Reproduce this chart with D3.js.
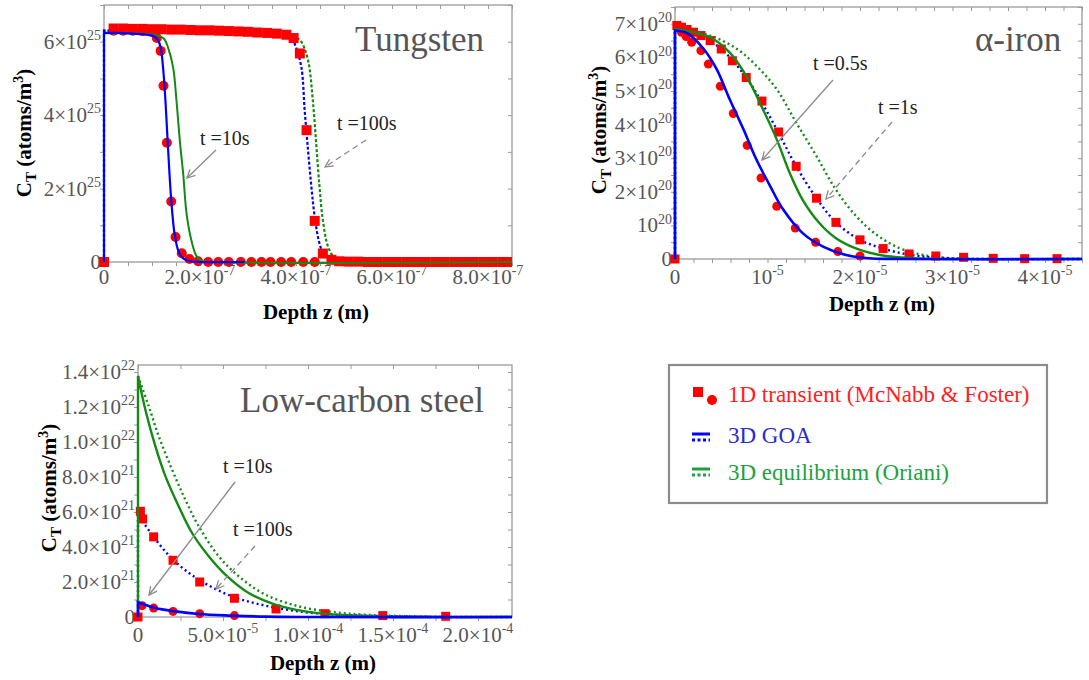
<!DOCTYPE html>
<html>
<head>
<meta charset="utf-8">
<script src="https://cdn.jsdelivr.net/npm/d3@7"></script>
<style>
  body { margin: 0; background: #fff; }
</style>
</head>
<body>
<svg id="chart" width="1089" height="680"></svg>
<script>
// ---- Tungsten (x in 1e-7 m, y in 1e25 atoms/m3)
const wSq100 = [[0,0],[0.2,6.36],[0.4,6.36],[0.6,6.35],[0.8,6.35],[1.0,6.34],[1.2,6.34],[1.4,6.33],[1.6,6.33],[1.8,6.32],[2.0,6.31],
  [2.2,6.31],[2.4,6.30],[2.6,6.29],[2.8,6.28],[3.0,6.27],[3.2,6.25],[3.4,6.24],[3.6,6.22],[3.8,6.19],[3.95,6.1],
  [4.08,5.68],[4.22,3.59],[4.39,1.12],[4.56,0.23],[4.74,0.06],[4.9,0.02],[5.1,0.01],[5.3,0.01],[5.5,0],[5.7,0],[5.9,0],
  [6.1,0],[6.3,0],[6.5,0],[6.7,0],[6.9,0],[7.1,0],[7.3,0],[7.5,0],[7.7,0],[7.9,0],[8.1,0],[8.3,0],[8.5,0]];
const wCirc10 = [[0.2,6.3],[0.4,6.3],[0.6,6.3],[0.8,6.29],[1.0,6.27],[1.1,6.1],[1.18,5.75],[1.24,4.8],[1.31,3.25],[1.4,1.65],
  [1.49,0.68],[1.62,0.24],[1.78,0.08],[1.96,0.02],[2.17,0],[2.38,0],[2.6,0],[2.85,0],[3.07,0],[3.28,0],[3.47,0],[3.69,0],[3.9,0],[4.15,0],[4.39,0]];
const wBlue10 = [[0,0],[0,6.24],[0.3,6.24],[0.6,6.22],[0.9,6.19],[1.05,6.14],[1.12,6.05],[1.18,5.85],[1.23,5.3],[1.28,4.4],[1.33,3.2],
  [1.4,1.7],[1.47,0.77],[1.55,0.3],[1.65,0.1],[1.8,0.02],[2.0,0],[2.93,0]];
const wGreen10 = [[0,0],[0,6.24],[0.5,6.23],[1.0,6.2],[1.15,6.16],[1.25,6.08],[1.33,5.86],[1.44,5.3],[1.51,4.4],[1.58,3.3],[1.65,2.4],
  [1.72,1.32],[1.82,0.59],[1.92,0.18],[2.03,0.03],[2.2,0],[8.5,0]];
const wBlue100 = [[0,0],[0,6.3],[2.0,6.28],[3.5,6.2],[3.9,6.1],[3.97,5.95],[4.11,5.32],[4.18,4.14],[4.25,3.05],[4.32,2.05],[4.39,1.23],
  [4.49,0.5],[4.6,0.14],[4.74,0.02],[4.9,0],[8.5,0]];
const wGreen100 = [[0,0],[0,6.3],[2.0,6.28],[3.8,6.2],[4.0,6.12],[4.11,6.0],[4.25,5.5],[4.35,4.41],[4.42,3.23],[4.49,2.05],[4.56,1.14],
  [4.67,0.41],[4.81,0.09],[4.94,0],[8.5,0]];
const wXTicks = [0, 2, 4, 6, 8];
const wXLabels = ["0", "2.0×10^-7", "4.0×10^-7", "6.0×10^-7", "8.0×10^-7"];
const wYTicks = [0, 2, 4, 6];
const wYLabels = ["0", "2×10^25", "4×10^25", "6×10^25"];

// ---- alpha-iron (x in 1e-5 m, y in 1e20 atoms/m3)
const aSq1 = [[0,0],[0.02,6.95],[0.07,6.9],[0.13,6.83],[0.2,6.75],[0.28,6.65],[0.38,6.5],[0.5,6.25],[0.62,5.9],[0.77,5.4],[0.94,4.7],
  [1.12,3.78],[1.31,2.76],[1.53,1.81],[1.74,1.09],[2.0,0.57],[2.25,0.31],[2.53,0.15],[2.82,0.09],[3.12,0.05],[3.44,0.02],[3.78,0.01],[4.13,0.01]];
const aCirc05 = [[0.07,6.75],[0.12,6.62],[0.18,6.45],[0.28,6.2],[0.36,5.8],[0.49,5.14],[0.63,4.33],[0.78,3.38],[0.93,2.41],[1.1,1.57],
  [1.3,0.92],[1.52,0.5],[1.76,0.22],[2.0,0.09]];
const aBlue05 = [[0,0],[0,6.8],[0.13,6.72],[0.31,6.25],[0.45,5.65],[0.59,4.76],[0.74,3.86],[0.88,2.96],[1.03,2.16],[1.17,1.47],
  [1.38,0.77],[1.6,0.37],[1.85,0.12],[2.1,0.02],[2.35,0],[4.4,0]];
const aGreen05 = [[0,0],[0,6.85],[0.2,6.75],[0.38,6.6],[0.59,6.15],[0.77,5.45],[0.95,4.46],[1.1,3.56],[1.24,2.56],[1.38,1.76],
  [1.56,1.07],[1.74,0.62],[2.0,0.27],[2.28,0.09],[2.64,0.02],[3.0,0],[4.4,0]];
const aBlue1 = [[0,0],[0,6.85],[0.2,6.75],[0.5,6.25],[0.77,5.4],[0.94,4.65],[1.12,3.75],[1.31,2.76],[1.53,1.81],[1.74,1.09],
  [2.0,0.57],[2.3,0.27],[2.6,0.1],[2.9,0.03],[3.3,0],[4.4,0]];
const aGreen1 = [[0,0],[0,6.85],[0.38,6.65],[0.67,6.25],[0.88,5.75],[1.1,5.05],[1.31,4.06],[1.53,3.06],[1.74,2.06],[1.96,1.27],
  [2.18,0.72],[2.43,0.32],[2.68,0.12],[3.0,0.02],[3.3,0],[4.4,0]];
const aXTicks = [0, 1, 2, 3, 4];
const aXLabels = ["0", "10^-5", "2×10^-5", "3×10^-5", "4×10^-5"];
const aYTicks = [0, 1, 2, 3, 4, 5, 6, 7];
const aYLabels = ["0", "10^20", "2×10^20", "3×10^20", "4×10^20", "5×10^20", "6×10^20", "7×10^20"];

// ---- Low-carbon steel (x in 1e-5 m, y in 1e21 atoms/m3)
const sSq100 = [[0,0],[0.14,6.04],[0.27,5.6],[0.92,4.58],[2.06,3.24],[3.63,2.0],[5.67,1.07],[8.12,0.46],[11.0,0.19],[14.4,0.08],[18.1,0.04]];
const sCirc10 = [[0.24,0.65],[0.92,0.51],[2.06,0.32],[3.63,0.19],[5.67,0.08]];
const sBlue10 = [[0,0],[0,0.84],[1.02,0.51],[2.2,0.32],[3.57,0.17],[5.5,0.08],[7.5,0.02],[9.5,0],[22,0]];
const sBlue100 = [[0,0],[0,6.0],[0.04,5.85],[0.92,4.58],[2.06,3.28],[3.57,2.14],[5.53,1.18],[7.49,0.65],[9.45,0.32],[11.4,0.15],
  [13.4,0.08],[16.3,0.02],[19,0],[22,0]];
const sGreen10 = [[0,0],[0,13.77],[0.43,11.86],[1.02,9.76],[1.61,8.05],[2.39,6.33],[3.18,4.8],[4.16,3.47],[5.14,2.42],[6.51,1.37],
  [8.08,0.71],[9.84,0.32],[11.4,0.15],[13.4,0.04],[16,0],[22,0]];
const sGreen100 = [[0,13.77],[0.63,12.05],[1.22,10.33],[2.0,8.43],[2.78,6.71],[3.57,5.19],[4.75,3.47],[5.92,2.33],[7.49,1.28],
  [9.45,0.61],[11.4,0.29],[13.4,0.13],[16.3,0.04],[19.3,0],[22,0]];
const sXTicks = [0, 5, 10, 15, 20];
const sXLabels = ["0", "5.0×10^-5", "1.0×10^-4", "1.5×10^-4", "2.0×10^-4"];
const sYTicks = [0, 2, 4, 6, 8, 10, 12, 14];
const sYLabels = ["0", "2.0×10^21", "4.0×10^21", "6.0×10^21", "8.0×10^21", "1.0×10^22", "1.2×10^22", "1.4×10^22"];

const legendItems = ["1D transient (McNabb & Foster)", "3D GOA", "3D equilibrium (Oriani)"];

const RED = "#ff0000", BLUE = "#0000ff", GREEN = "#138a13";
const FONT = '"Liberation Serif", "Times New Roman", serif';
const svg = d3.select("#chart").style("font-family", FONT);

svg.append("defs").append("marker")
  .attr("id", "arr").attr("viewBox", "0 0 10 10").attr("refX", 9).attr("refY", 5)
  .attr("markerWidth", 10).attr("markerHeight", 10).attr("markerUnits", "userSpaceOnUse")
  .attr("orient", "auto")
  .append("path").attr("d", "M1,1 L9,5 L1,9").attr("fill", "none").attr("stroke", "#8a8a8a").attr("stroke-width", 1.3);

// "2×10^25" -> text with superscript
function supText(sel, label, size, supSize) {
  const parts = label.split("^");
  sel.append("tspan").text(parts[0]);
  if (parts[1]) sel.append("tspan").attr("dy", -size * 0.42).attr("font-size", supSize).text(parts[1]);
}

let clipId = 0;
function drawPanel(p) {
  const g = svg.append("g");
  const x = d3.scaleLinear().domain(p.xDomain).range([p.left, p.right]);
  const y = d3.scaleLinear().domain(p.yDomain).range([p.bottom, p.top]);

  const minorX = d3.range(p.xDomain[0], p.xDomain[1] + 1e-9, p.xMinor);
  const minorY = d3.range(p.yDomain[0], p.yDomain[1] + 1e-9, p.yMinor);
  const tickStyle = a => { a.select(".domain").remove(); a.selectAll("line").attr("stroke", "#9a9a9a"); };

  g.append("g").attr("transform", `translate(0,${p.bottom})`)
    .call(d3.axisBottom(x).tickValues(minorX).tickSize(4).tickFormat("")).call(tickStyle);
  g.append("g").attr("transform", `translate(0,${p.top})`)
    .call(d3.axisBottom(x).tickValues(minorX).tickSize(4).tickFormat("")).call(tickStyle);
  g.append("g").attr("transform", `translate(${p.left},0)`)
    .call(d3.axisLeft(y).tickValues(minorY).tickSize(4).tickFormat("")).call(tickStyle);
  g.append("g").attr("transform", `translate(${p.right},0)`)
    .call(d3.axisLeft(y).tickValues(minorY).tickSize(4).tickFormat("")).call(tickStyle);

  g.append("rect")
    .attr("x", p.left).attr("y", p.top)
    .attr("width", p.right - p.left).attr("height", p.bottom - p.top)
    .attr("fill", "none").attr("stroke", "#9a9a9a").attr("stroke-width", 1.3);

  // tick labels
  p.xTicks.forEach((v, i) => {
    const t = g.append("text").attr("x", x(v)).attr("y", p.bottom + p.xLabelGap)
      .attr("text-anchor", "middle").attr("font-size", 21).attr("fill", "#555");
    supText(t, p.xLabels[i], 21, 14);
  });
  p.yTicks.forEach((v, i) => {
    const t = g.append("text").attr("x", p.left - 3).attr("y", y(v) + 7)
      .attr("text-anchor", "end").attr("font-size", 21).attr("fill", "#555");
    supText(t, p.yLabels[i], 21, 14);
  });

  // axis titles
  g.append("text").attr("x", p.xTitle[0]).attr("y", p.xTitle[1]).attr("text-anchor", "middle")
    .attr("font-size", 21).attr("font-weight", "bold").text("Depth z (m)");
  const yt = g.append("text").attr("transform", `translate(${p.yTitle[0]},${p.yTitle[1]}) rotate(-90)`)
    .attr("text-anchor", "middle").attr("font-size", 21).attr("font-weight", "bold");
  yt.append("tspan").text("C");
  yt.append("tspan").attr("dy", 5).attr("font-size", 15).text("T");
  yt.append("tspan").attr("dy", -5).text(" (atoms/m");
  yt.append("tspan").attr("dy", -8).attr("font-size", 14).text("3");
  yt.append("tspan").attr("dy", 8).text(")");

  g.append("text").attr("x", p.title[0]).attr("y", p.title[1])
    .attr("font-size", 35).attr("fill", "#555").text(p.title[2]);

  // plot contents, clipped
  const id = "clip" + (clipId++);
  g.append("clipPath").attr("id", id).append("rect")
    .attr("x", p.left - 6).attr("y", p.top).attr("width", p.right - p.left + 6).attr("height", p.bottom - p.top + 6);
  const body = g.append("g").attr("clip-path", `url(#${id})`);

  const curve = d3.line().x(d => x(d[0])).y(d => y(d[1])).curve(d3.curveCatmullRom.alpha(0.5));
  // first segment (the wall at z = 0) is straight, the rest smooth
  const pathOf = d => d[0][0] === d[1][0]
    ? `M${x(d[0][0])},${y(d[0][1])}L` + curve(d.slice(1)).slice(1)
    : curve(d);
  const drawLines = list => list.forEach(s => {
    body.append("path").attr("d", pathOf(s.data))
      .attr("fill", "none").attr("stroke", s.color).attr("stroke-width", s.w)
      .attr("stroke-dasharray", s.dash || null);
  });

  body.selectAll(null).data(p.circles).join("circle")
    .attr("cx", d => x(d[0])).attr("cy", d => y(d[1])).attr("r", p.mk / 2).attr("fill", RED);
  drawLines(p.lines.filter(s => s.dash));
  body.selectAll(null).data(p.squares).join("rect")
    .attr("x", d => x(d[0]) - p.mk / 2).attr("y", d => y(d[1]) - p.mk / 2)
    .attr("width", p.mk).attr("height", p.mk).attr("fill", RED);
  drawLines(p.lines.filter(s => !s.dash));

  // annotations
  p.notes.forEach(n => {
    g.append("text").attr("x", n.tx).attr("y", n.ty).attr("font-size", 20).attr("fill", "#222").text(n.text);
    g.append("line").attr("x1", n.a[0]).attr("y1", n.a[1]).attr("x2", n.a[2]).attr("y2", n.a[3])
      .attr("stroke", "#8a8a8a").attr("stroke-width", 1.3)
      .attr("stroke-dasharray", n.dashed ? "6,4" : null).attr("marker-end", "url(#arr)");
  });
}

drawPanel({
  left: 104, right: 512, top: 5, bottom: 262, xLabelGap: 22,
  xDomain: [0, 8.5], yDomain: [0, 7], xMinor: 0.5, yMinor: 1,
  xTicks: wXTicks, xLabels: wXLabels, yTicks: wYTicks, yLabels: wYLabels,
  xTitle: [316, 319], yTitle: [31, 133], title: [355, 51, "Tungsten"], mk: 10,
  squares: wSq100, circles: wCirc10,
  lines: [
    { data: wGreen10, color: GREEN, w: 2 },
    { data: wBlue10, color: BLUE, w: 2.2 },
    { data: wGreen100, color: GREEN, w: 2.2, dash: "3,2" },
    { data: wBlue100, color: BLUE, w: 2.2, dash: "3,2" }
  ],
  notes: [
    { text: "t =10s", tx: 200, ty: 145, a: [216, 150, 187, 178], dashed: false },
    { text: "t =100s", tx: 337, ty: 130, a: [366, 140, 325, 167], dashed: true }
  ]
});

drawPanel({
  left: 675, right: 1082, top: 7, bottom: 259, xLabelGap: 25,
  xDomain: [0, 4.4], yDomain: [0, 7.5], xMinor: 0.2, yMinor: 0.5,
  xTicks: aXTicks, xLabels: aXLabels, yTicks: aYTicks, yLabels: aYLabels,
  xTitle: [882, 311], yTitle: [606, 130], title: [975, 51, "α-iron"], mk: 9,
  squares: aSq1, circles: aCirc05,
  lines: [
    { data: aGreen05, color: GREEN, w: 2.4 },
    { data: aBlue05, color: BLUE, w: 2.6 },
    { data: aGreen1, color: GREEN, w: 2.4, dash: "2,3" },
    { data: aBlue1, color: BLUE, w: 2.4, dash: "2,3" }
  ],
  notes: [
    { text: "t =0.5s", tx: 813, ty: 70, a: [833, 80, 762, 160], dashed: false },
    { text: "t =1s", tx: 878, ty: 114, a: [892, 122, 826, 199], dashed: true }
  ]
});

drawPanel({
  left: 138, right: 512, top: 365, bottom: 617, xLabelGap: 25,
  xDomain: [0, 22], yDomain: [0, 14.4], xMinor: 2.5, yMinor: 1,
  xTicks: sXTicks, xLabels: sXLabels, yTicks: sYTicks, yLabels: sYLabels,
  xTitle: [323, 670], yTitle: [56, 488], title: [240, 412, "Low-carbon  steel"], mk: 9,
  squares: sSq100, circles: sCirc10,
  lines: [
    { data: sGreen10, color: GREEN, w: 2.4 },
    { data: sBlue10, color: BLUE, w: 2.6 },
    { data: sGreen100, color: GREEN, w: 2.4, dash: "2,3" },
    { data: sBlue100, color: BLUE, w: 2.4, dash: "2,3" }
  ],
  notes: [
    { text: "t =10s", tx: 223, ty: 473, a: [235, 482, 149, 595], dashed: false },
    { text: "t =100s", tx: 233, ty: 536, a: [255, 546, 216, 589], dashed: true }
  ]
});

// legend
const lg = svg.append("g");
lg.append("rect").attr("x", 669).attr("y", 365).attr("width", 378).attr("height", 138)
  .attr("fill", "#fff").attr("stroke", "#8c8c8c").attr("stroke-width", 2.2);
const legendColors = ["#ff2020", "#2a2ad2", "#1ea040"];
const legendY = [402, 443, 480];
legendItems.forEach((t, i) => {
  lg.append("text").attr("x", 728).attr("y", legendY[i]).attr("font-size", 23)
    .attr("fill", legendColors[i]).text(t);
});
lg.append("rect").attr("x", 693).attr("y", 387).attr("width", 10).attr("height", 10).attr("fill", RED);
lg.append("circle").attr("cx", 712).attr("cy", 400).attr("r", 5).attr("fill", RED);
[[BLUE, 434], ["#1ea040", 469]].forEach(([c, yy]) => {
  lg.append("line").attr("x1", 692).attr("x2", 710).attr("y1", yy).attr("y2", yy).attr("stroke", c).attr("stroke-width", 3);
  lg.append("line").attr("x1", 692).attr("x2", 710).attr("y1", yy + 6).attr("y2", yy + 6).attr("stroke", c)
    .attr("stroke-width", 3).attr("stroke-dasharray", "3,2.5");
});
</script>
</body>
</html>
